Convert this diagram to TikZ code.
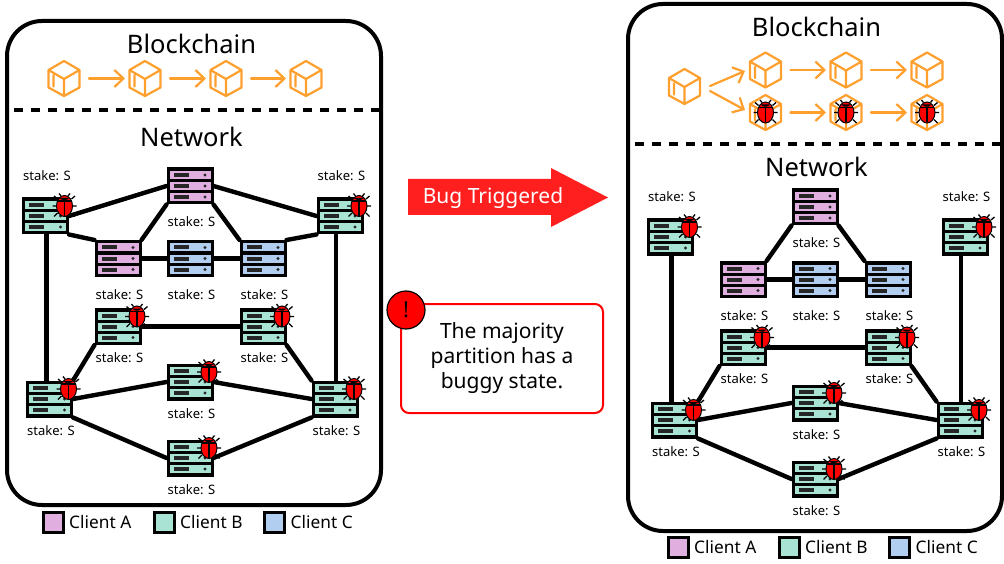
\documentclass[tikz,border=0pt]{standalone}
\usepackage{fontspec}
\setmainfont{Noto Sans}
\usetikzlibrary{arrows.meta,backgrounds}
\definecolor{clientA}{HTML}{E1AEE0}
\definecolor{clientB}{HTML}{A9E3D3}
\definecolor{clientC}{HTML}{B1CDF0}
\definecolor{chainorange}{HTML}{FF9F2E}
\definecolor{bugred}{HTML}{FF1F1F}
\tikzset{
	serverbox/.style={minimum width=47pt,minimum height=37pt,inner sep=0pt,outer sep=0pt},
	blockbox/.style={minimum width=32pt,minimum height=36pt,inner sep=0pt,outer sep=0pt},
	stakelabel/.style={font=\fontsize{13}{15}\selectfont,inner sep=0pt},
	titlelabel/.style={font=\fontsize{25.5}{28}\selectfont,inner sep=0pt},
	legendlabel/.style={font=\fontsize{17.3}{19}\selectfont,inner sep=0pt,anchor=west},
	legendbox/.style={draw=black,line width=3pt,minimum size=20pt,inner sep=0pt},
	link/.style={line width=4.4pt,line cap=round},
	frame/.style={line width=4pt,rounded corners=35pt},
	divider/.style={line width=3.5pt,dash pattern=on 8.5pt off 8.5pt,dash phase=9.7pt},
	chainarrow/.style={draw=chainorange,line width=2.2pt,line cap=round,-{Straight Barb[length=9pt,width=17pt]},shorten >=4pt,shorten <=9pt},
	pics/serverrack/.style={code={
		\fill[black] (-23.5,-18.5) rectangle (23.5,18.5);
		\foreach \y in {-11,0,11}{
			\fill[#1] (-20.5,\y-4) rectangle (20.5,\y+4);
			\fill[black!85] (-16.5,\y-2) rectangle (-1.5,\y+2);
			\fill[black!85] (15,\y) circle (1.6);
		}
	}},
	pics/bugicon/.style={code={
		\draw[line width=1.3pt] (-7,-7)--(-10.5,-10) (7,-7)--(10.5,-10) (-8,0)--(-12,0) (8,0)--(12,0) (-7,7)--(-10.5,10.5) (7,7)--(10.5,10.5) (-3.5,-10)--(-5.5,-12.5) (3.5,-10)--(5.5,-12.5);
		\draw[fill=red,line width=1pt] (0,0) ellipse (8 and 10.5);
		\fill[black] (-5,-8) arc (140:40:6.5) -- cycle;
		\draw[line width=1.5pt] (-7,-5) -- (7,-5) (0,-5) -- (0,10);
	}},
	pics/cubeicon/.style={code={
		\draw[chainorange,line width=2.2pt,line join=round,line cap=round] (0,-17.5)--(15.5,-8.5)--(15.5,9)--(0,17.5)--(-15.5,9)--(-15.5,-8.5)--cycle
			(-15.5,-8.5)--(0,0.5)--(15.5,-8.5) (0,0.5)--(0,17.5) (-10.5,-3)--(-10.5,8);
	}},
}
% servers, stake labels and links both networks share
\newcommand{\network}{
	\foreach \n/\px/\py/\col/\off in {lcorner/45.5/216/clientB/-40,tophub/190/186/clientA/36,lhub/118/258.5/clientA/36,chub/190/258.5/clientC/36,rhub/263/258.5/clientC/36,rcorner/340/216/clientB/-40,lmid/118/326.5/clientB/31.5,rmid/263/326.5/clientB/31.5,cmid/190/382/clientB/32,lbase/49.5/399/clientB/32,rbase/335/399/clientB/32,cbase/190/458/clientB/32}{
		\node[serverbox] (\n) at (\px,\py) {};
		\pic at (\n) {serverrack=\col};
		\node[stakelabel] (stake\n) at ([xshift=1.5pt,yshift=-\off pt]\n) {stake: S};
	}
	\foreach \n in {lcorner,rcorner,lmid,rmid,cmid,lbase,rbase,cbase}
		\pic at ([xshift=19pt,yshift=10pt]\n) {bugicon};
	\begin{pgfonlayer}{background}
		\draw[link] (tophub.south west) -- (lhub.north east);
		\draw[link] (tophub.south east) -- (rhub.north west);
		\draw[link] (lhub) -- (chub) -- (rhub);
		\draw[link,transform canvas={xshift=-3pt}] (lbase.center|-lcorner.center) -- (lbase.center);
		\draw[link,transform canvas={xshift=1pt}] (rbase.center|-rcorner.center) -- (rbase.center);
		\draw[link] (lmid) -- (rmid);
		\draw[link] (lmid.south west) -- (lbase.north east);
		\draw[link] (rmid.south east) -- (rbase.north west);
		\draw[link] (lbase.east) -- (cmid.west);
		\draw[link] (cmid.east) -- (rbase.west);
		\draw[link] (lbase.south east) -- (cbase.west);
		\draw[link] (cbase.east) -- (rbase.south west);
	\end{pgfonlayer}
}
\begin{document}
\begin{tikzpicture}[x=1pt,y=-1pt]
	\useasboundingbox (0,0) rectangle (1004,564);

	% left panel
	\draw[frame] (7,21) rectangle (381,505);
	\draw[divider] (7,110) -- (381,110);
	\node[titlelabel] (chainleft) at (191.5,44) {Blockchain};
	\node[titlelabel] (netleft) at (191.5,137) {Network};
	\foreach \i/\px in {1/64,2/145,3/226,4/306}{
		\node[blockbox] (a\i) at (\px,78.5) {};
		\pic at (a\i) {cubeicon};
	}
	\draw[chainarrow] (a1) -- (a2);
	\draw[chainarrow] (a2) -- (a3);
	\draw[chainarrow] (a3) -- (a4);
	\begin{scope}[name prefix=l-]
		\network
		\begin{pgfonlayer}{background}
			\draw[link] (lcorner.east) -- (tophub.west);
			\draw[link] (tophub.east) -- (rcorner.west);
			\draw[link] (lcorner.south east) -- (lhub.north west);
			\draw[link] (rhub.north east) -- (rcorner.south west);
		\end{pgfonlayer}
	\end{scope}
	\foreach \n/\px/\col/\txt in {la/53/clientA/Client A,lb/164/clientB/Client B,lc/274.5/clientC/Client C}{
		\node[legendbox,fill=\col] (\n) at (\px,522) {};
		\node[legendlabel] (text\n) at (\px+16,522.5) {\txt};
	}

	% trigger arrow and note
	\fill[bugred] (408,179) -- (551,179) -- (551,168) -- (608,197.5) -- (551,227) -- (551,215) -- (408,215) -- cycle;
	\node[font=\fontsize{21}{24}\selectfont,text=white,inner sep=0pt] (trigger) at (493,198) {Bug Triggered};
	\node[draw=red,line width=2pt,rounded corners=8pt,minimum width=202pt,minimum height=109pt,align=center,font=\fontsize{21}{25}\selectfont] (note) at (502,358.5) {The majority\\partition has a\\buggy state.};
	\node[circle,draw=black,line width=1.2pt,fill=red,minimum size=38pt,inner sep=0pt,font=\fontsize{22}{24}\selectfont\bfseries] (alert) at (406,310) {!};

	% right panel
	\draw[frame] (628,4) rectangle (1002,531);
	\draw[divider] (628,144) -- (1002,144);
	\node[titlelabel] (chainright) at (816.5,27) {Blockchain};
	\node[titlelabel] (netright) at (816.5,167) {Network};
	\node[blockbox] (root) at (684.5,86.5) {};
	\pic at (root) {cubeicon};
	\foreach \i/\px in {1/765.5,2/846,3/927}{
		\node[blockbox] (u\i) at (\px,70) {};
		\pic at (u\i) {cubeicon};
		\node[blockbox] (d\i) at (\px,112.5) {};
		\pic at (d\i) {cubeicon};
		\pic at (d\i) {bugicon};
	}
	\coordinate (forkup) at (710,86);
	\coordinate (forkdown) at (710,91);
	\coordinate (tipup) at (745,71);
	\coordinate (tipdown) at (745,110);
	\draw[chainarrow,shorten <=0pt,shorten >=0pt] (forkup) -- (tipup);
	\draw[chainarrow,shorten <=0pt,shorten >=0pt] (forkdown) -- (tipdown);
	\draw[chainarrow] (u1) -- (u2);
	\draw[chainarrow] (u2) -- (u3);
	\draw[chainarrow] (d1) -- (d2);
	\draw[chainarrow] (d2) -- (d3);
	\begin{scope}[name prefix=r-,shift={(625,21)}]
		\network
	\end{scope}
	\foreach \n/\px/\col/\txt in {ra/678/clientA/Client A,rb/789/clientB/Client B,rc/899.5/clientC/Client C}{
		\node[legendbox,fill=\col] (\n) at (\px,547) {};
		\node[legendlabel] (text\n) at (\px+16,547.5) {\txt};
	}
\end{tikzpicture}
\end{document}
